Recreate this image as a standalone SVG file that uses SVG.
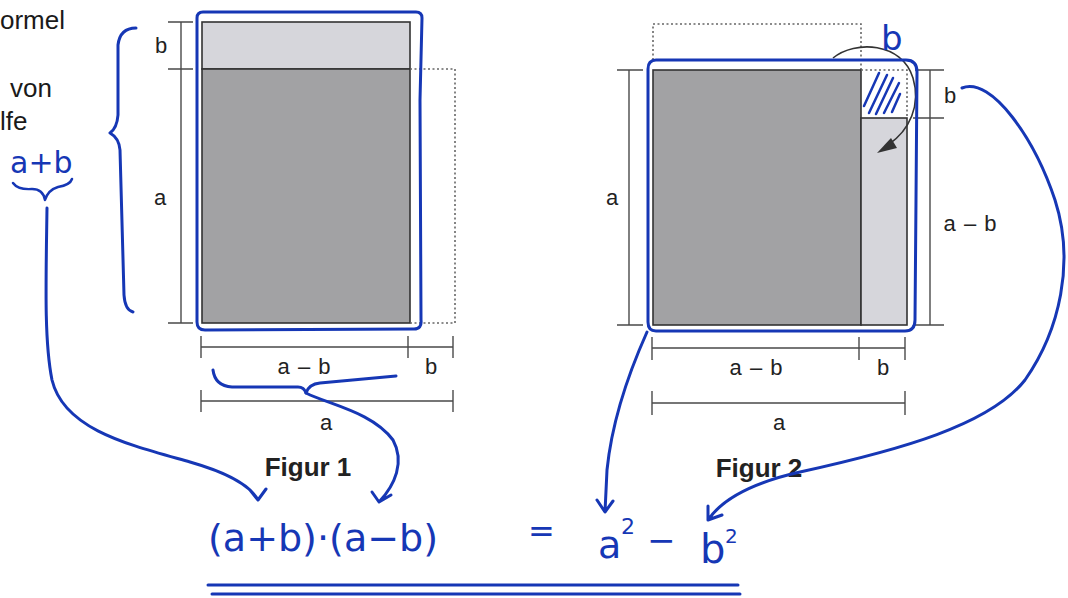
<svg xmlns="http://www.w3.org/2000/svg" width="1068" height="598" viewBox="0 0 1068 598">
<style>
.lbl{font-family:"Liberation Sans",Arial,sans-serif;font-size:22px;fill:#222;text-anchor:middle}
.side{font-family:"Liberation Sans",Arial,sans-serif;font-size:26px;fill:#1a1a1a}
.fig{font-family:"Liberation Sans",Arial,sans-serif;font-size:26px;font-weight:bold;fill:#222;text-anchor:middle}
.dim{stroke:#4a4a4a;stroke-width:1.4;fill:none}
.dot{stroke:#666;stroke-width:1.6;fill:none;stroke-dasharray:2 2.5}
.dark{fill:#a2a2a4;stroke:#333;stroke-width:1.6}
.light{fill:#d6d6db;stroke:#333;stroke-width:1.6}
.blue{stroke:#1637b5;stroke-width:3;fill:none;stroke-linecap:round;stroke-linejoin:round}
.bluet{stroke:#1637b5;stroke-width:2.5;fill:none;stroke-linecap:round;stroke-linejoin:round}
.hand{font-family:"DejaVu Sans",sans-serif;fill:#1637b5}
</style>
<rect width="1068" height="598" fill="#ffffff"/>

<g id="side-text">
<text class="side" x="0" y="29">ormel</text>
<text class="side" x="10" y="97">von</text>
<text class="side" x="0" y="130">lfe</text>
</g>

<g id="figure1">
<rect class="light" x="202" y="22" width="208" height="47"/>
<rect class="dark" x="202" y="69" width="208" height="254"/>
<path class="dot" d="M410,69 H455 V323 H410"/>
<path class="dim" d="M181,22 V323 M168,22 H193 M168,69 H193 M168,323 H193"/>
<text class="lbl" x="161" y="53">b</text>
<text class="lbl" x="160" y="205">a</text>
<path class="dim" d="M201,347 H453 M201,336 V358 M408,336 V358 M453,336 V358"/>
<text class="lbl" x="304" y="374" word-spacing="2">a – b</text>
<text class="lbl" x="431" y="374">b</text>
<path class="dim" d="M201,401 H453 M201,390 V412 M453,390 V412"/>
<text class="lbl" x="326" y="430">a</text>
<text class="fig" x="308" y="476">Figur 1</text>
<path class="blue" d="M203,12 H416 Q422,12 422,18 L420,100 L421,320 Q422,329 414,329 L205,330 Q197,330 197,322 V18 Q197,12 203,12 Z"/>
</g>

<g id="figure2">
<path class="dot" d="M653,60 V24 H861 V70"/>
<rect class="dark" x="653" y="70" width="208" height="255"/>
<rect class="light" x="861" y="118" width="46" height="207"/>
<path class="dot" d="M861,70 H907 V118"/>
<path class="dim" d="M629,70 V325 M617,70 H643 M617,325 H643"/>
<text class="lbl" x="612" y="205">a</text>
<path class="dim" d="M930,70 V325 M915,70 H944 M913,118 H944 M913,325 H944"/>
<text class="lbl" x="950" y="103">b</text>
<text class="lbl" x="970" y="231" word-spacing="2">a – b</text>
<path class="dim" d="M652,348 H905 M652,337 V360 M859,337 V360 M905,337 V360"/>
<text class="lbl" x="756" y="375" word-spacing="2">a – b</text>
<text class="lbl" x="883" y="375">b</text>
<path class="dim" d="M652,403 H905 M652,391 V415 M905,391 V415"/>
<text class="lbl" x="779" y="430">a</text>
<text class="fig" x="759" y="477">Figur 2</text>
<path class="bluet" d="M864,106 L879,73 M869,113 L887,75 M876,114 L893,78 M884,113 L899,83 M892,112 L900,94"/>
<path d="M833,58 C855,40 902,42 913,78 C921,105 910,130 888,145" stroke="#333" stroke-width="1.6" fill="none"/>
<polygon points="877,153 891,138 897,148" fill="#333"/>
<path class="blue" d="M656,60 H906 Q917,60 917,72 L916,200 L915,320 Q915,331 905,331 H656 Q648,331 648,322 V69 Q648,60 656,60 Z"/>
<text class="hand" x="881" y="50" font-size="34">b</text>
</g>

<g id="annotations">
<text class="hand" x="10" y="173" font-size="30">a+b</text>
<path class="bluet" d="M13,183 Q18,190 32,189 Q43,189 45,200 Q48,190 58,187 Q70,185 72,179"/>
<path class="blue" d="M136,28 Q120,28 118,45 V115 Q117,128 110,133 Q119,138 120,150 L124,295 Q125,310 133,312"/>
<path class="blue" d="M213,370 Q215,386 232,387 H298 Q304,387 306,393 Q309,384 320,383 L396,376"/>
<g id="formula">
<text class="hand" x="208" y="551" font-size="38" textLength="230" lengthAdjust="spacingAndGlyphs">(a+b)·(a−b)</text>
<text class="hand" x="528" y="542" font-size="32">=</text>
<text class="hand" x="598" y="558" font-size="38">a</text>
<text class="hand" x="621" y="534" font-size="22">2</text>
<text class="hand" x="647" y="552" font-size="34">−</text>
<text class="hand" x="700" y="563" font-size="40">b</text>
<text class="hand" x="725" y="543" font-size="20">2</text>
</g>
<path class="blue" d="M208,585 H738 M212,594 H740"/>
</g>

<g id="connectors">
<path class="blue" d="M47,208 C46,280 44,340 52,380 C64,430 130,445 190,462 C225,472 250,485 258,500 M250,490 L258,500 L266,489"/>
<path class="blue" d="M306,393 C330,405 372,412 393,440 C405,462 395,485 379,502 M372,492 L379,502 L391,495"/>
<path class="blue" d="M647,332 C630,370 612,420 607,470 L605,512 M597,500 L605,512 L613,501"/>
<path class="blue" d="M962,88 C992,76 1035,140 1055,200 C1075,262 1060,330 1025,380 C990,425 900,450 800,472 C760,481 725,495 708,520 M708,506 L708,520 L722,515"/>
</g>
</svg>
